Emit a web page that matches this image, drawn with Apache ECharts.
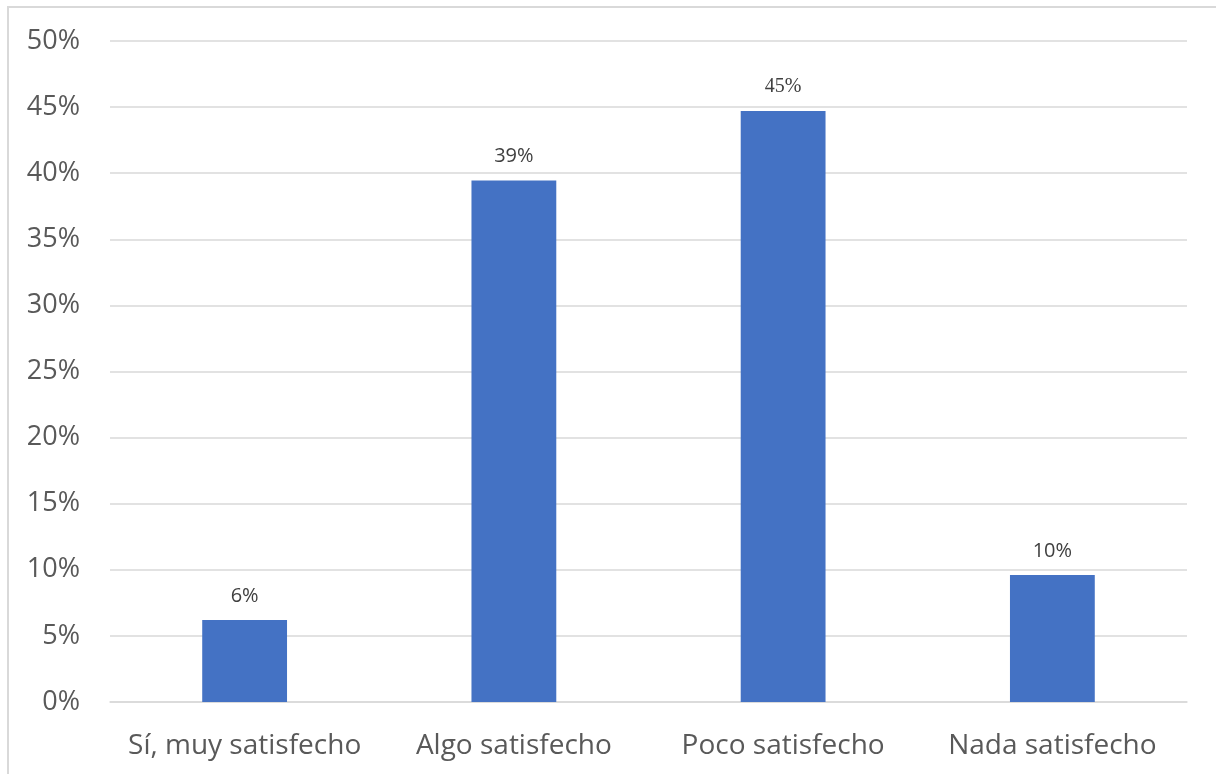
<!DOCTYPE html>
<html>
<head>
<meta charset="utf-8">
<script src="https://cdn.jsdelivr.net/npm/echarts@6/dist/echarts.min.js"></script>
<style>
html,body{margin:0;padding:0;background:#fff;}
#chart{width:1216px;height:774px;}
</style>
</head>
<body>
<div id="chart"></div>
<script>
const categories = ['Sí, muy satisfecho', 'Algo satisfecho', 'Poco satisfecho', 'Nada satisfecho'];
const values = [6.2, 39.45, 44.7, 9.6];
const labelFonts = ['Open Sans', 'Open Sans', 'Liberation Serif', 'Open Sans'];

const chart = echarts.init(document.getElementById('chart'));
chart.setOption({
  animation: false,
  backgroundColor: '#fff',
  graphic: [{
    type: 'rect',
    shape: { x: 8, y: 7, width: 1400, height: 900 },
    style: { fill: 'none', stroke: '#d9d9d9', lineWidth: 2 },
    silent: true
  }],
  grid: { left: 110, right: 29, top: 41, bottom: 72, containLabel: false },
  xAxis: {
    type: 'category',
    data: categories,
    axisLine: { show: true, lineStyle: { color: '#d9d9d9', width: 1.5 } },
    axisTick: { show: false },
    axisLabel: { interval: 0, hideOverlap: false, color: '#595959', fontSize: 28, fontFamily: 'Open Sans', margin: 30 }
  },
  yAxis: {
    type: 'value',
    min: 0, max: 50, interval: 5,
    axisLine: { show: false },
    axisTick: { show: false },
    splitLine: { lineStyle: { color: '#d9d9d9', width: 1.5 } },
    axisLabel: { color: '#595959', fontSize: 27, fontFamily: 'Open Sans', margin: 30, formatter: v => v + '%' }
  },
  series: [{
    type: 'bar',
    barWidth: '31.5%',
    itemStyle: { color: '#4472c4' },
    data: values.map((v, i) => ({
      value: v,
      label: { fontFamily: labelFonts[i] }
    })),
    label: {
      show: true,
      position: 'top',
      distance: 14,
      color: '#404040',
      fontSize: 20,
      formatter: p => Math.round(p.value) + '%'
    }
  }]
});
</script>
</body>
</html>
